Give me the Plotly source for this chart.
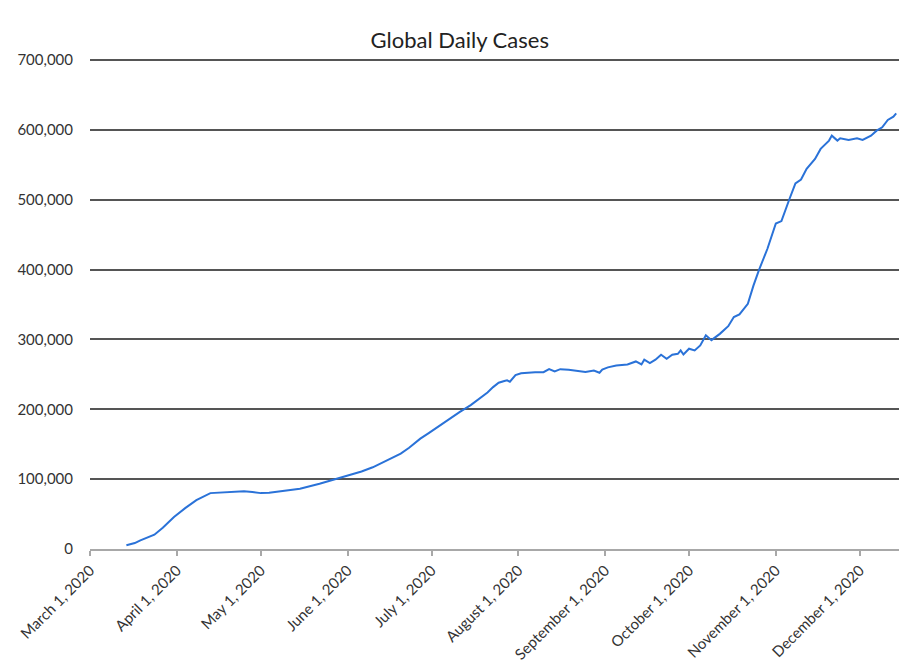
import plotly.graph_objects as go

# Data (7-day average of global daily cases)
dates = [
    "2020-03-14", "2020-03-17", "2020-03-19", "2020-03-22", "2020-03-24", "2020-03-27",
    "2020-03-31", "2020-04-04", "2020-04-08", "2020-04-13", "2020-04-19", "2020-04-25",
    "2020-04-28", "2020-05-01", "2020-05-04", "2020-05-08", "2020-05-15", "2020-05-22",
    "2020-05-29", "2020-06-02", "2020-06-06", "2020-06-10", "2020-06-13", "2020-06-16",
    "2020-06-20", "2020-06-23", "2020-06-27", "2020-06-30", "2020-07-04", "2020-07-08",
    "2020-07-11", "2020-07-15", "2020-07-18", "2020-07-21", "2020-07-23", "2020-07-25",
    "2020-07-27", "2020-07-28", "2020-07-29", "2020-07-31", "2020-08-02", "2020-08-04",
    "2020-08-07", "2020-08-10", "2020-08-12", "2020-08-14", "2020-08-16", "2020-08-19",
    "2020-08-22", "2020-08-25", "2020-08-28", "2020-08-30", "2020-08-31", "2020-09-02",
    "2020-09-05", "2020-09-09", "2020-09-12", "2020-09-14", "2020-09-15", "2020-09-17",
    "2020-09-19", "2020-09-21", "2020-09-23", "2020-09-25", "2020-09-27", "2020-09-28",
    "2020-09-29", "2020-10-01", "2020-10-03", "2020-10-05", "2020-10-07", "2020-10-09",
    "2020-10-12", "2020-10-15", "2020-10-17", "2020-10-19", "2020-10-22", "2020-10-23",
    "2020-10-24", "2020-10-26", "2020-10-28", "2020-10-29", "2020-11-01", "2020-11-03",
    "2020-11-06", "2020-11-08", "2020-11-10", "2020-11-12", "2020-11-15", "2020-11-17",
    "2020-11-20", "2020-11-21", "2020-11-23", "2020-11-24", "2020-11-27", "2020-11-30",
    "2020-12-02", "2020-12-05", "2020-12-07", "2020-12-09", "2020-12-11", "2020-12-13",
    "2020-12-14",
]
cases = [
    5300, 8500, 12400, 17000, 20500, 30500,
    45800, 58500, 70000, 80000, 81500, 82500,
    81500, 80000, 80500, 82500, 86400, 93500,
    101500, 106000, 111000, 117000, 123000, 128000,
    136500, 145000, 158000, 166000, 177000, 187000,
    196000, 206000, 215000, 224000, 231800, 238000,
    240500, 241500, 239500, 249000, 251500, 252400,
    253000, 253200, 257500, 254200, 257500, 256600,
    255000, 253500, 255600, 252400, 257000, 260000,
    262800, 264200, 268500, 264200, 271000, 266100,
    271000, 278100, 272400, 278100, 279500, 284300,
    278500, 286700, 284300, 291400, 306000, 299000,
    308000, 319000, 332000, 335800, 351000, 365000,
    377000, 399700, 420000, 429800, 466000, 469500,
    502500, 523500, 529000, 544200, 558500, 572800,
    584700, 591800, 584700, 588000, 585700, 588000,
    585700, 591800, 598900, 603700, 614300, 619000,
    623700,
]

tick_dates = ["2020-03-01", "2020-04-01", "2020-05-01", "2020-06-01", "2020-07-01",
              "2020-08-01", "2020-09-01", "2020-10-01", "2020-11-01", "2020-12-01"]
tick_labels = ["March 1, 2020", "April 1, 2020", "May 1, 2020", "June 1, 2020",
               "July 1, 2020", "August 1, 2020", "September 1, 2020",
               "October 1, 2020", "November 1, 2020", "December 1, 2020"]
y_ticks = [0, 100000, 200000, 300000, 400000, 500000, 600000, 700000]
title_text = "Global Daily Cases"

FONT = "Lato, 'Open Sans', sans-serif"

fig = go.Figure()
fig.add_trace(go.Scatter(
    x=dates, y=cases, mode="lines",
    line=dict(color="#2a72d8", width=2),
    hoverinfo="x+y", showlegend=False,
))

fig.update_layout(
    width=909, height=671,
    paper_bgcolor="white", plot_bgcolor="white",
    margin=dict(l=82, r=18, t=51, b=130, autoexpand=False),
    title=dict(text=title_text, x=0.497, xanchor="center", y=0.952, yanchor="middle",
               font=dict(family=FONT, size=22, color="#222222")),
    font=dict(family=FONT, size=15, color="#333333"),
)

fig.update_xaxes(
    type="date",
    range=["2020-03-01", "2020-12-15"],
    tickvals=tick_dates, ticktext=tick_labels,
    tickangle=-45,
    showgrid=False,
    showline=True, linecolor="#a8a8a8", linewidth=1.5,
    ticks="outside", ticklen=5, tickcolor="#a8a8a8", tickwidth=1.5,
    tickfont=dict(family=FONT, size=15, color="#333333"),
    zeroline=False,
)
fig.update_yaxes(
    range=[0, 701500],
    tickvals=y_ticks, tickformat=",",
    showgrid=True, gridcolor="#555555", gridwidth=1.5,
    zeroline=False, showline=False, ticks="",
    ticklabelstandoff=16,
    tickfont=dict(family=FONT, size=15, color="#333333"),
)

fig.write_html("out.html")
